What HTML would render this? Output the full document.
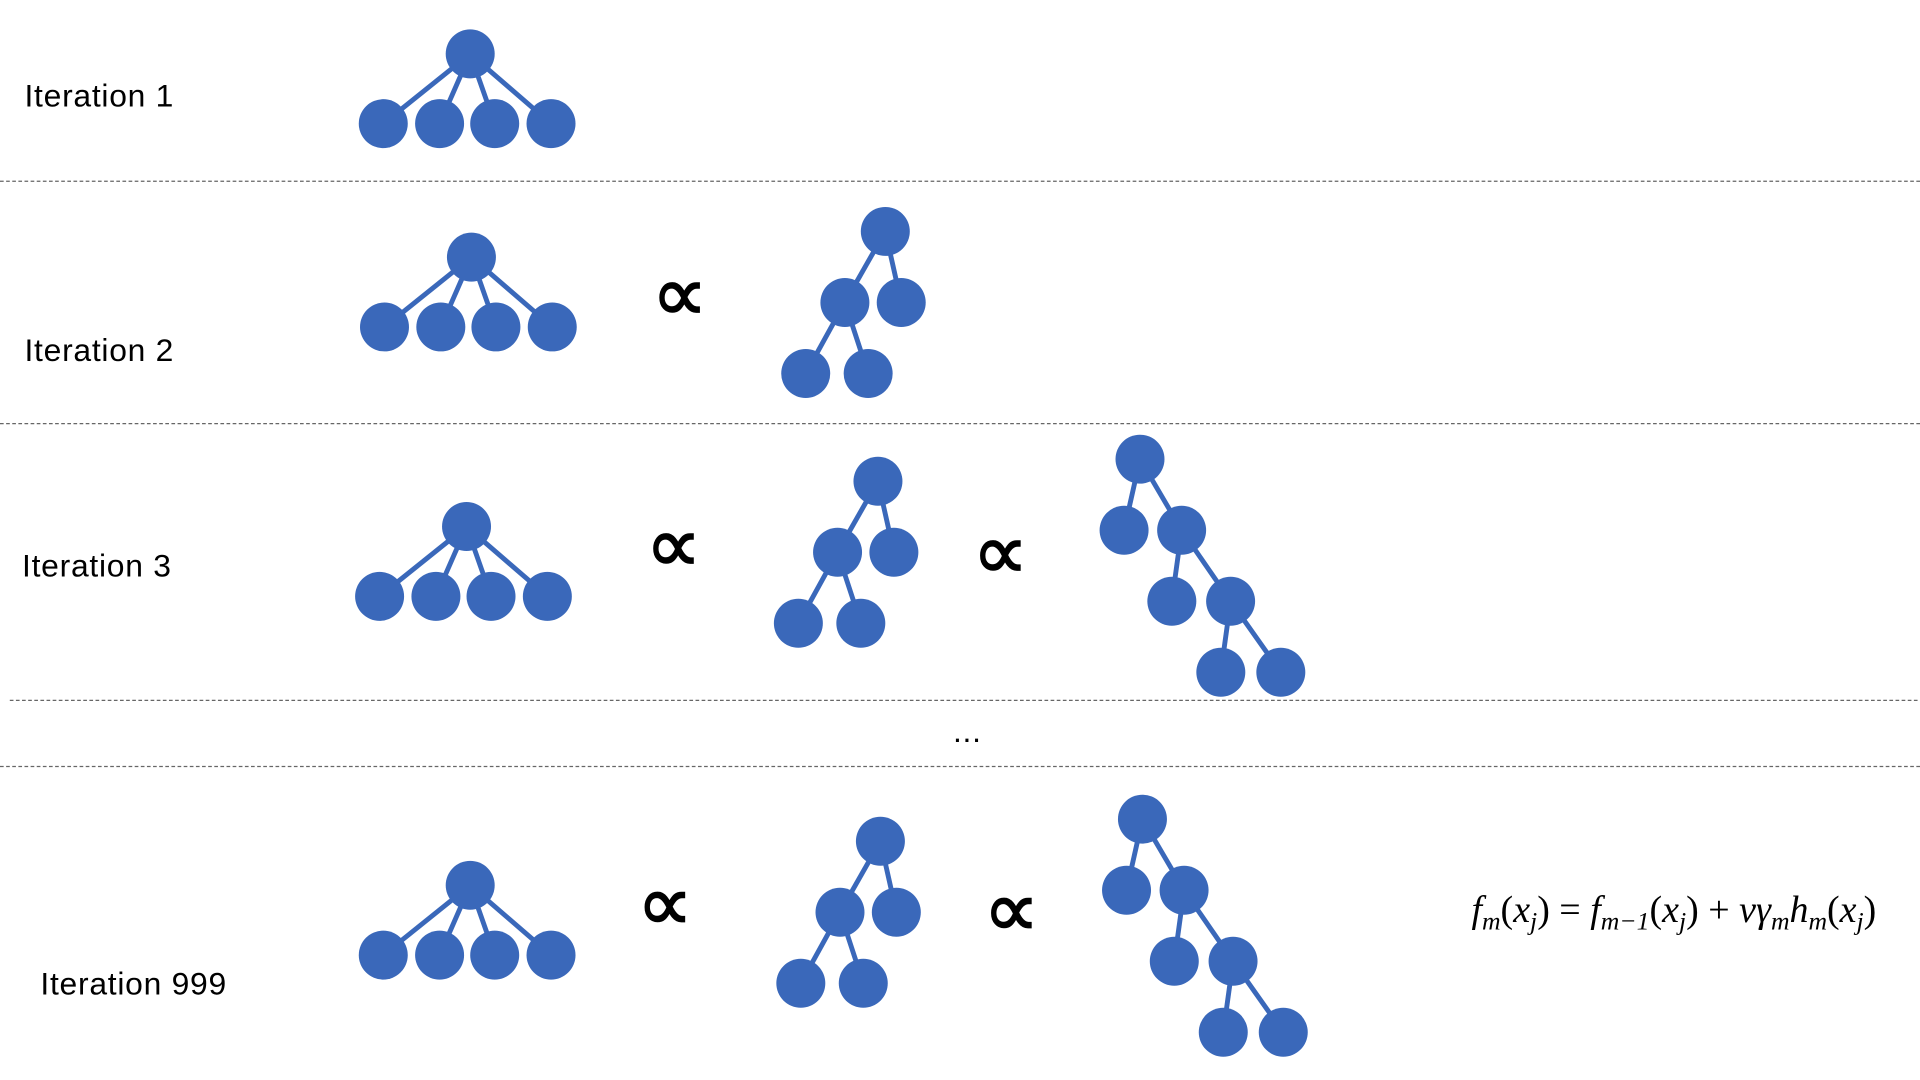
<!DOCTYPE html>
<html><head><meta charset="utf-8"><style>
html,body{margin:0;padding:0;background:#fff;width:1920px;height:1080px;overflow:hidden}
svg{display:block}
.lbl{font-family:"Liberation Sans",sans-serif;font-size:26px;letter-spacing:0.6px;fill:#000}
.prop{font-family:"DejaVu Sans","Liberation Sans",sans-serif;font-size:64px;fill:#000;stroke:#000;stroke-width:1.2}
.eq{font-family:"Liberation Serif",serif;font-size:31px;fill:#000;font-style:italic}
</style></head><body>
<svg id="s" width="1920" height="1080" viewBox="0 0 1568 882">
<g stroke="#666" stroke-width="1" stroke-dasharray="3,2">
<line x1="0" y1="148" x2="1568" y2="148"/>
<line x1="0" y1="346" x2="1568" y2="346"/>
<line x1="8" y1="572" x2="1568" y2="572"/>
<line x1="0" y1="626" x2="1568" y2="626"/>
</g>
<text class="lbl" x="20" y="87">Iteration 1</text>
<text class="lbl" x="20" y="295">Iteration 2</text>
<text class="lbl" x="18" y="471">Iteration 3</text>
<text class="lbl" x="33" y="812">Iteration 999</text>
<text class="lbl" x="790" y="606" text-anchor="middle">...</text>
<text class="prop" x="555" y="262" text-anchor="middle">∝</text>
<text class="prop" x="550" y="467" text-anchor="middle">∝</text>
<text class="prop" x="817" y="473" text-anchor="middle">∝</text>
<text class="prop" x="543" y="760" text-anchor="middle">∝</text>
<text class="prop" x="826" y="765" text-anchor="middle">∝</text>
<text class="eq" x="1367" y="753" text-anchor="middle">f<tspan font-size="21" dy="6">m</tspan><tspan dy="-6" font-style="normal">(</tspan>x<tspan font-size="21" dy="6">j</tspan><tspan dy="-6" font-style="normal">) = </tspan>f<tspan font-size="21" dy="6">m−1</tspan><tspan dy="-6" font-style="normal">(</tspan>x<tspan font-size="21" dy="6">j</tspan><tspan dy="-6" font-style="normal">) + </tspan>νγ<tspan font-size="21" dy="6">m</tspan><tspan dy="-6">h</tspan><tspan font-size="21" dy="6">m</tspan><tspan dy="-6" font-style="normal">(</tspan>x<tspan font-size="21" dy="6">j</tspan><tspan dy="-6" font-style="normal">)</tspan></text>
</svg>
<script>
// tree node layouts (relative to root) and edges
const flatNodes = [[0,0],[-71,57],[-25,57],[20,57],[66,57]];
const flatEdges = [[0,1],[0,2],[0,3],[0,4]];
const deepNodes = [[0,0],[-33,58],[13,58],[-65,116],[-14,116]];
const deepEdges = [[0,1],[0,2],[1,3],[1,4]];
const chainNodes = [[0,0],[-13,58],[34,58],[26,116],[74,116],[66,174],[115,174]];
const chainEdges = [[0,1],[0,2],[2,3],[2,4],[4,5],[4,6]];
const placements = [
 ['flat',384,44],
 ['flat',385,210],['deep',723,189],
 ['flat',381,430],['deep',717,393],['chain',931,375],
 ['flat',384,723],['deep',719,687],['chain',933,669]
];
const NS='http://www.w3.org/2000/svg';
const svg=document.getElementById('s');
const defs={flat:[flatNodes,flatEdges],deep:[deepNodes,deepEdges],chain:[chainNodes,chainEdges]};
placements.forEach(p=>{
 const [nodes,edges]=defs[p[0]];const ox=p[1],oy=p[2];
 const g=document.createElementNS(NS,'g');
 
 
 edges.forEach(e=>{
  const l=document.createElementNS(NS,'line');
  l.setAttribute('x1',ox+nodes[e[0]][0]);l.setAttribute('y1',oy+nodes[e[0]][1]);
  l.setAttribute('x2',ox+nodes[e[1]][0]);l.setAttribute('y2',oy+nodes[e[1]][1]);
  l.setAttribute('stroke','#3A68BA');l.setAttribute('stroke-width','4');
  
  
  g.appendChild(l);
 });
 nodes.forEach(n=>{
  const c=document.createElementNS(NS,'circle');
  c.setAttribute('cx',ox+n[0]);c.setAttribute('cy',oy+n[1]);c.setAttribute('r','20');
  c.setAttribute('fill','#3A68BA');
  
  
  g.appendChild(c);
 });
 svg.appendChild(g);
});
</script>
</body></html>
